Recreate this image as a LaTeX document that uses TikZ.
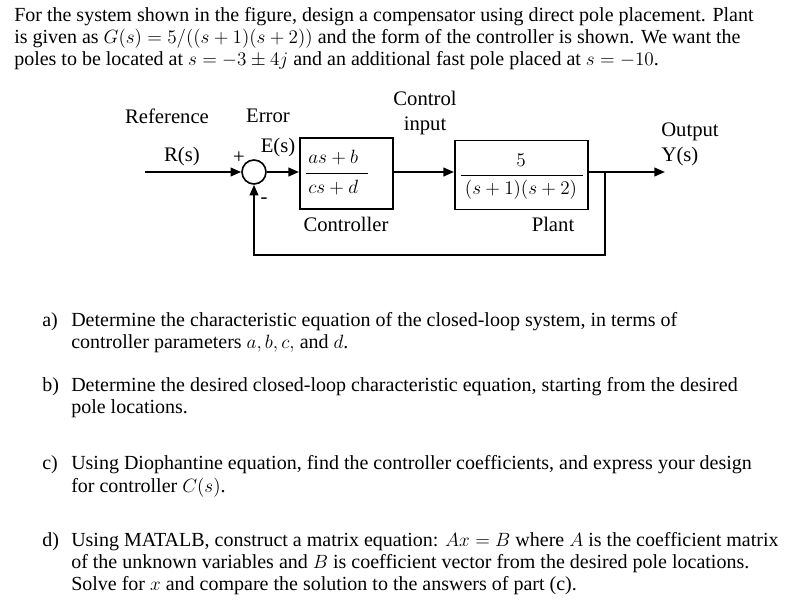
\documentclass[tikz,border=0pt]{standalone}
\usepackage{fontspec}
\setmainfont{Liberation Serif}
\newfontfamily\diafont{Liberation Serif}
\usetikzlibrary{arrows.meta}
\begin{document}
\begin{tikzpicture}[x=0.75pt,y=-0.75pt,
  txt/.style={anchor=west,inner sep=0pt,font=\fontsize{15}{17}\selectfont},
  dia/.style={inner sep=0pt,font=\diafont\fontsize{15.5}{17}\selectfont},
  blk/.style={draw,line width=1.2pt,inner sep=0pt},
  wire/.style={line width=1.5pt},
  arr/.style={wire,-{Triangle[length=8pt,width=6.5pt]}}]
\useasboundingbox (0,0) rectangle (794,611);
% text
\node[txt] (t1) at (14,17) {For the system shown in the figure, design a compensator using direct pole placement. Plant};
\node[txt] (t2) at (14,39) {is given as $G(s)=5/((s+1)(s+2))$ and the form of the controller is shown. We want the};
\node[txt] (t3) at (14,61) {poles to be located at $s=-3\pm4j$ and an additional fast pole placed at $s=-10$.};
\node[txt] (qa) at (42,322) {a)};
\node[txt] (a1) at (71,322) {Determine the characteristic equation of the closed-loop system, in terms of};
\node[txt] (a2) at (71,344) {controller parameters $a,b,c,$ and $d$.};
\node[txt] (qb) at (42,387) {b)};
\node[txt] (b1) at (71,387) {Determine the desired closed-loop characteristic equation, starting from the desired};
\node[txt] (b2) at (71,409) {pole locations.};
\node[txt] (qc) at (42,465) {c)};
\node[txt] (c1) at (71,465) {Using Diophantine equation, find the controller coefficients, and express your design};
\node[txt] (c2) at (71,488) {for controller $C(s)$.};
\node[txt] (qd) at (42,542) {d)};
\node[txt] (d1) at (71,542) {Using MATALB, construct a matrix equation: $Ax=B$ where $A$ is the coefficient matrix};
\node[txt] (d2) at (71,564) {of the unknown variables and $B$ is coefficient vector from the desired pole locations.};
\node[txt] (d3) at (71,586) {Solve for $x$ and compare the solution to the answers of part (c).};
% diagram
\coordinate (rin) at (145,172);
\node[draw,circle,line width=1.2pt,minimum size=18pt,inner sep=0pt] (sum) at (254,172) {};
\node[blk,minimum width=70pt,minimum height=53pt] (ctrl) at (346.5,173.5) {};
\node[dia,anchor=west] (cnum) at (308,158) {$as+b$};
\node[dia,anchor=west] (cden) at (308,188) {$cs+d$};
\draw[line width=0.6pt] (306,173) -- (368,173);
\node[blk,minimum width=100pt,minimum height=52pt] (plant) at (521.5,175) {};
\node[dia] (pnum) at (521,160) {$5$};
\node[dia] (pden) at (521,190) {$(s+1)(s+2)$};
\draw[line width=0.6pt] (461,175) -- (583,175);
\coordinate (yout) at (665,172);
\coordinate (tap) at (605,172);
\coordinate (fb1) at (605,255);
\coordinate (fb2) at (254,255);
\draw[arr] (rin) -- (sum.west);
\draw[arr] (sum.east) -- (ctrl.west|-sum);
\draw[arr] (ctrl.east|-sum) -- (plant.west|-sum);
\draw[arr] (plant.east|-sum) -- (yout);
\draw[arr] (tap) -- (fb1) -- (fb2) -- (sum.south);
\node[dia] (lref) at (167,116) {Reference};
\node[dia] (lerr) at (268,116) {Error};
\node[dia] (lc1) at (425,98) {Control};
\node[dia] (lc2) at (425,126) {input};
\node[dia] (lr) at (182,157) {R(s)};
\node[dia] (le) at (278,148) {E(s)};
\node[dia] (lo) at (690,132) {Output};
\node[dia] (ly) at (680,157) {Y(s)};
\node[dia] (lctl) at (346,224) {Controller};
\node[dia] (lpl) at (553,224) {Plant};
\node[dia] (plus) at (239,158) {+};
\node[dia] (minus) at (264,201) {-};
\end{tikzpicture}
\end{document}
